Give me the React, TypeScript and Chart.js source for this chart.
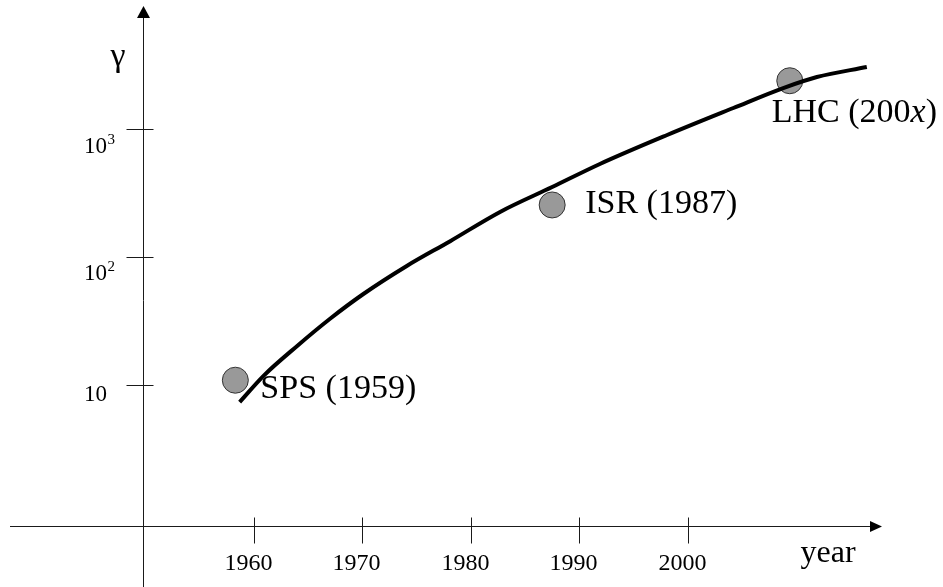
import React, { useEffect, useRef } from "react";
import { Chart, registerables } from "chart.js";

Chart.register(...registerables);

// ---- data ----
const curveYears = [1958.7, 1960.9, 1964.0, 1967.0, 1970.1, 1974.1, 1978.1, 1982.7, 1987.5, 1991.9, 1998.1, 2004.2, 2008.8, 2011.9, 2016.5];
const curveGamma = [7.36, 11.8, 20.2, 32.8, 51.4, 85.1, 133, 225, 352, 533, 898, 1459, 2089, 2547, 3048];

const machineNames = ["SPS (1959)", "ISR (1987)", "LHC (200*x*)"];
const machineYears = [1958.3, 1987.5, 2009.4];
const machineGamma = [10.9, 255, 2383];

const xTickValues = [1960, 1970, 1980, 1990, 2000];
const xTickLabels = ["1960", "1970", "1980", "1990", "2000"];
const yTickValues = [10, 100, 1000];
const yTickBase = ["10", "10", "10"];
const yTickExponent = ["", "2", "3"];

const yAxisTitle = "\u03B3";
const xAxisTitle = "year";

// ---- style ----
const SERIF = "'Liberation Serif', 'Times New Roman', serif";
const labelOffsets = [
  [25, 18],
  [33, 8],
  [-18, 41],
];
const yLabelBaselineOffsets = [15, 22, 23];

function drawRuns(ctx: CanvasRenderingContext2D, text: string, x: number, y: number, size: number) {
  const parts = text.split("*");
  let cx = x;
  parts.forEach((p, i) => {
    if (!p) return;
    ctx.font = `${i % 2 === 1 ? "italic " : ""}${size}px ${SERIF}`;
    ctx.fillText(p, cx, y);
    cx += ctx.measureText(p).width;
  });
}

const decoPlugin = {
  id: "decoPlugin",
  beforeDatasetsDraw(chart: any) {
    const ctx: CanvasRenderingContext2D = chart.ctx;
    const { left, right, top, bottom } = chart.chartArea;
    const xs = chart.scales.x;
    const ys = chart.scales.y;
    const H = chart.height;
    ctx.save();
    ctx.strokeStyle = "#1a1a1a";
    ctx.fillStyle = "#000";
    ctx.lineWidth = 1;
    const ay = Math.round(bottom) + 0.5;
    const ax = Math.round(left) + 0.5;
    // x axis
    ctx.beginPath();
    ctx.moveTo(10, ay);
    ctx.lineTo(right - 8, ay);
    ctx.stroke();
    ctx.beginPath();
    ctx.moveTo(right, ay);
    ctx.lineTo(right - 12, ay - 5.5);
    ctx.lineTo(right - 12, ay + 5.5);
    ctx.closePath();
    ctx.fill();
    // y axis
    ctx.beginPath();
    ctx.moveTo(ax, H);
    ctx.lineTo(ax, top + 8);
    ctx.stroke();
    ctx.beginPath();
    ctx.moveTo(ax, top);
    ctx.lineTo(ax - 6.5, top + 12);
    ctx.lineTo(ax + 6.5, top + 12);
    ctx.closePath();
    ctx.fill();
    // x ticks
    ctx.font = `24px ${SERIF}`;
    ctx.textAlign = "center";
    ctx.textBaseline = "middle";
    xTickValues.forEach((v, i) => {
      const px = Math.round(xs.getPixelForValue(v)) + 0.5;
      ctx.beginPath();
      ctx.moveTo(px, ay - 9);
      ctx.lineTo(px, ay + 17);
      ctx.stroke();
      ctx.fillText(xTickLabels[i], px - 6, ay + 37);
    });
    // y ticks
    ctx.textAlign = "left";
    ctx.textBaseline = "alphabetic";
    yTickValues.forEach((v, i) => {
      const py = Math.round(ys.getPixelForValue(v)) + 0.5;
      ctx.beginPath();
      ctx.moveTo(ax - 17, py);
      ctx.lineTo(ax + 10, py);
      ctx.stroke();
      const by = py + yLabelBaselineOffsets[i];
      ctx.font = `23px ${SERIF}`;
      ctx.fillText(yTickBase[i], 84, by);
      const w = ctx.measureText(yTickBase[i]).width;
      if (yTickExponent[i]) {
        ctx.font = `15px ${SERIF}`;
        ctx.fillText(yTickExponent[i], 84 + w + 0.5, by - 9);
      }
    });
    // axis titles
    ctx.textAlign = "center";
    ctx.textBaseline = "middle";
    ctx.font = `34px ${SERIF}`;
    ctx.fillText(yAxisTitle, 118, 57);
    ctx.font = `32px ${SERIF}`;
    ctx.fillText(xAxisTitle, 828, 554);
    ctx.restore();
  },
  afterDatasetsDraw(chart: any) {
    const ctx: CanvasRenderingContext2D = chart.ctx;
    const meta = chart.getDatasetMeta(1);
    ctx.save();
    ctx.fillStyle = "#000";
    ctx.textAlign = "left";
    ctx.textBaseline = "alphabetic";
    meta.data.forEach((pt: any, i: number) => {
      const [dx, dy] = labelOffsets[i];
      drawRuns(ctx, machineNames[i], pt.x + dx, pt.y + dy, 34);
    });
    ctx.restore();
  },
};

export default function App() {
  const ref = useRef<HTMLCanvasElement | null>(null);
  useEffect(() => {
    if (!ref.current) return;
    const chart = new Chart(ref.current, {
      type: "line",
      data: {
        datasets: [
          {
            data: curveYears.map((x, i) => ({ x, y: curveGamma[i] })),
            borderColor: "#000",
            borderWidth: 4,
            pointRadius: 0,
            cubicInterpolationMode: "monotone",
            fill: false,
            clip: false,
            order: 0,
          },
          {
            data: machineYears.map((x, i) => ({ x, y: machineGamma[i] })),
            showLine: false,
            pointRadius: 13,
            pointBackgroundColor: "#999999",
            pointBorderColor: "#333333",
            pointBorderWidth: 1,
            clip: false,
            order: 1,
          },
        ],
      } as any,
      options: {
        responsive: false,
        animation: false,
        devicePixelRatio: 1,
        layout: { autoPadding: false, padding: { left: 143, right: 61, top: 6, bottom: 61 } },
        scales: {
          x: { type: "linear", min: 1949.79, max: 2017.9, bounds: "data", display: false },
          y: { type: "logarithmic", min: 0.7915, max: 9141, display: false },
        },
        plugins: { legend: { display: false }, tooltip: { enabled: false } },
        events: [],
      } as any,
      plugins: [decoPlugin],
    });
    return () => chart.destroy();
  }, []);
  return (
    <div style={{ position: "absolute", left: 0, top: 0, width: 943, height: 587, background: "#fff" }}>
      <canvas ref={ref} width={943} height={587} />
    </div>
  );
}
